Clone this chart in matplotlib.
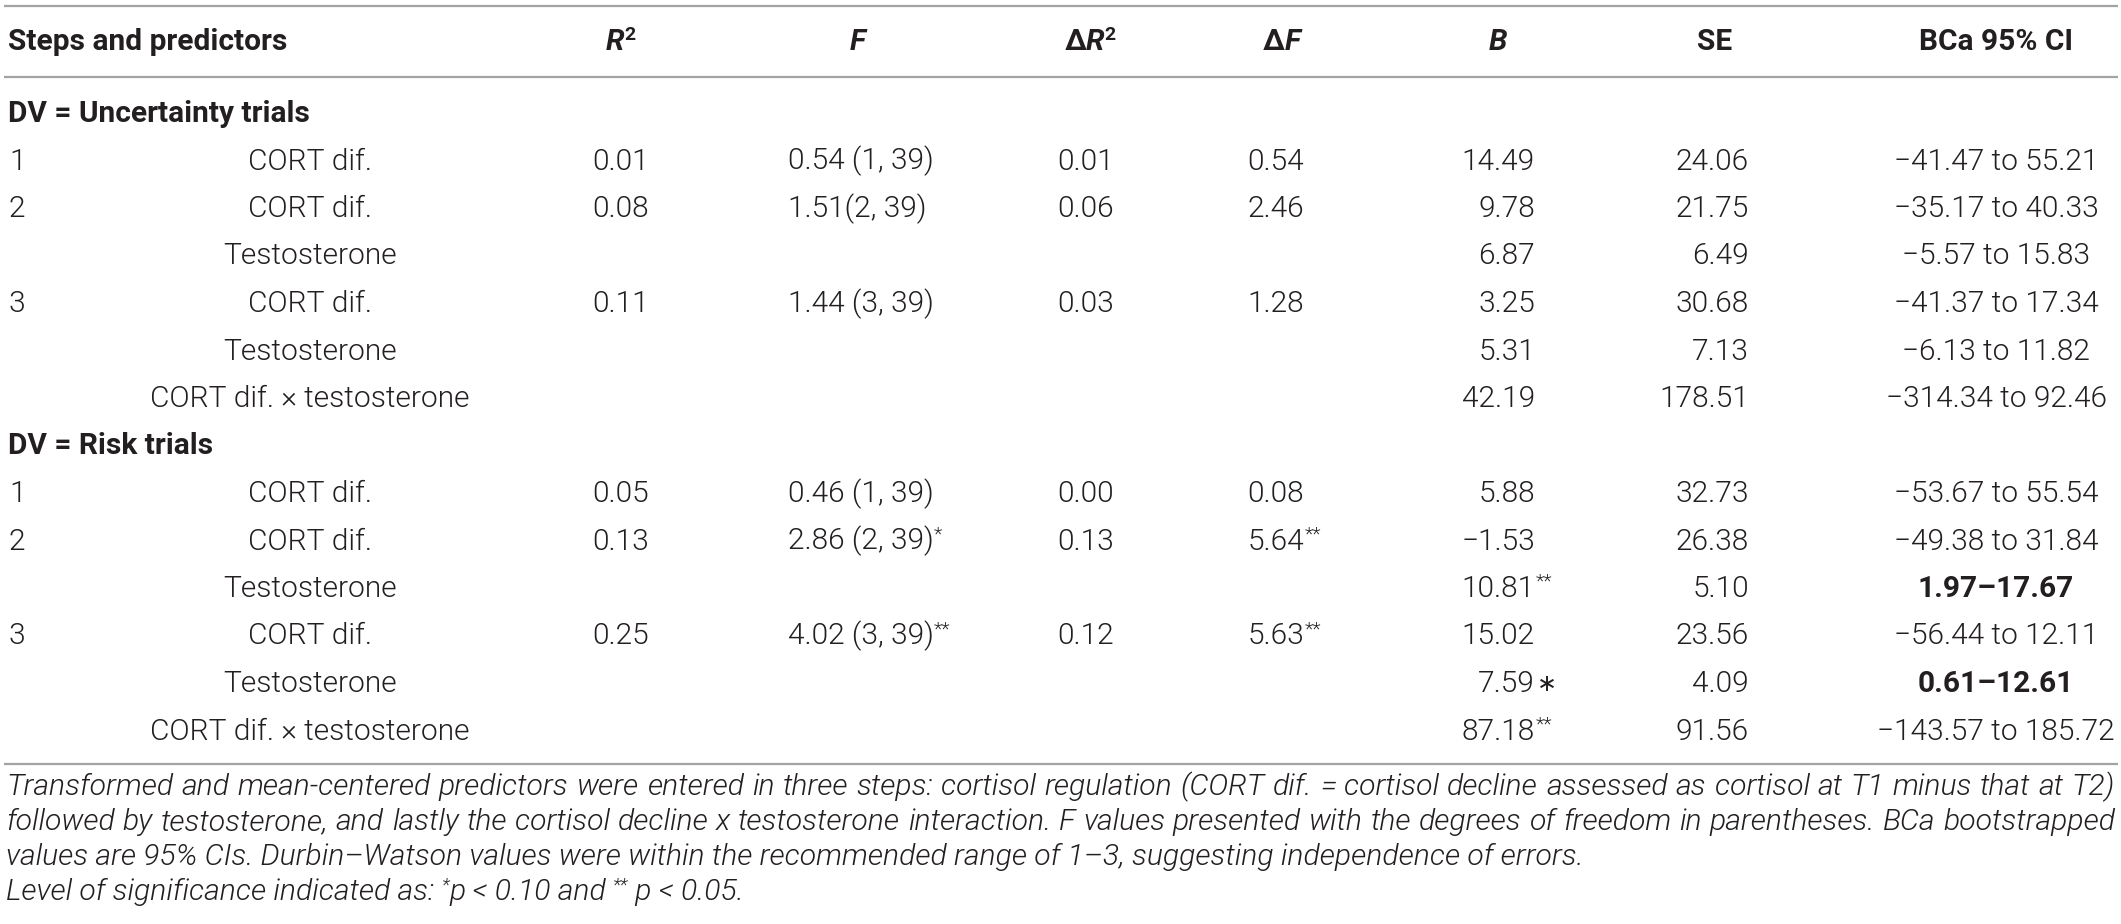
import matplotlib
matplotlib.use("Agg")
import matplotlib.pyplot as plt

# ---------------- data ----------------
headers = ["Steps and predictors", "R", "F", "ΔR", "ΔF", "B", "SE", "BCa 95% CI"]
section_titles = ["DV = Uncertainty trials", "DV = Risk trials"]
step_labels = ["1", "2", "", "3", "", ""]
predictors = ["CORT dif.", "CORT dif.", "Testosterone", "CORT dif.", "Testosterone",
              "CORT dif. × testosterone"]

# Uncertainty trials
r2_u = ["0.01", "0.08", "", "0.11", "", ""]
f_u = ["0.54 (1, 39)", "1.51(2, 39)", "", "1.44 (3, 39)", "", ""]
f_sig_u = ["", "", "", "", "", ""]
dr2_u = ["0.01", "0.06", "", "0.03", "", ""]
df_u = ["0.54", "2.46", "", "1.28", "", ""]
df_sig_u = ["", "", "", "", "", ""]
b_u = ["14.49", "9.78", "6.87", "3.25", "5.31", "42.19"]
b_sig_u = ["", "", "", "", "", ""]
se_u = ["24.06", "21.75", "6.49", "30.68", "7.13", "178.51"]
ci_u = ["−41.47 to 55.21", "−35.17 to 40.33", "−5.57 to 15.83", "−41.37 to 17.34",
        "−6.13 to 11.82", "−314.34 to 92.46"]
ci_bold_u = [False, False, False, False, False, False]

# Risk trials
r2_r = ["0.05", "0.13", "", "0.25", "", ""]
f_r = ["0.46 (1, 39)", "2.86 (2, 39)", "", "4.02 (3, 39)", "", ""]
f_sig_r = ["", "*", "", "**", "", ""]
dr2_r = ["0.00", "0.13", "", "0.12", "", ""]
df_r = ["0.08", "5.64", "", "5.63", "", ""]
df_sig_r = ["", "**", "", "**", "", ""]
b_r = ["5.88", "−1.53", "10.81", "15.02", "7.59", "87.18"]
b_sig_r = ["", "", "**", "", "∗", "**"]
se_r = ["32.73", "26.38", "5.10", "23.56", "4.09", "91.56"]
ci_r = ["−53.67 to 55.54", "−49.38 to 31.84", "1.97–17.67", "−56.44 to 12.11",
        "0.61–12.61", "−143.57 to 185.72"]
ci_bold_r = [False, False, True, False, True, False]

footnote_lines = [
    "Transformed and mean-centered predictors were entered in three steps: cortisol regulation (CORT dif. = cortisol decline assessed as cortisol at T1 minus that at T2)",
    "followed by testosterone, and lastly the cortisol decline x testosterone interaction. F values presented with the degrees of freedom in parentheses. BCa bootstrapped",
    "values are 95% CIs. Durbin–Watson values were within the recommended range of 1–3, suggesting independence of errors.",
]

# ---------------- layout ----------------
W, H = 2121, 924
FAM = ["Roboto", "DejaVu Sans"]
TXT = "#231f20"
LINE = "#a3a3a3"
FS = 21.5
FS_SUP = 14
LIGHT = 300
RAISE = 10

fig = plt.figure(figsize=(W / 100, H / 100), dpi=100)
ax = fig.add_axes([0, 0, 1, 1])
ax.set_xlim(0, W)
ax.set_ylim(H, 0)
ax.axis("off")
renderer = fig.canvas.get_renderer()


def measure(s, **kw):
    t = ax.text(0, 0, s, **kw)
    w = t.get_window_extent(renderer).width
    t.remove()
    return w


def base(**kw):
    d = dict(family=FAM, color=TXT, fontsize=FS, weight=LIGHT)
    d.update(kw)
    return d


def runs(x, y, parts, ha="left"):
    widths = [measure(t, **st) for t, st, r in parts]
    total = sum(widths)
    x0 = x if ha == "left" else (x - total if ha == "right" else x - total / 2)
    for (t, st, r), w in zip(parts, widths):
        ax.text(x0, y - r, t, va="baseline", ha="left", **st)
        x0 += w


def txt(x, y, s, ha="left", **kw):
    ax.text(x, y, s, ha=ha, va="baseline", **base(**kw))


def num_sig(x_right, y, s, sig):
    txt(x_right, y, s, ha="right")
    if sig == "∗":
        txt(x_right + 2, y - 1, sig, ha="left", family=["DejaVu Sans"],
            fontsize=FS * 0.8, weight="normal")
    elif sig:
        txt(x_right + 1, y - RAISE, sig, ha="left", fontsize=FS_SUP)


# column anchors (pixels)
X_STEP = 8
X_PRED = 310
X_R2 = 621
X_F = 788
X_DR2_R = 1114
X_DF_R = 1304
X_B_R = 1535
X_SE_R = 1749
X_CI = 1996

Y_HEAD = 50          # baselines
Y_ROW0 = 122
DY = 47.5

for yl in (6, 77, 764):
    ax.plot([4, W - 3], [yl, yl], color=LINE, lw=1.6, solid_capstyle="butt")

# header
yb = Y_HEAD
bold = base(weight="bold")
bolditc = base(weight="bold", style="italic")
supb = base(weight="bold", fontsize=FS_SUP)
txt(X_STEP, yb, headers[0], weight="bold")
runs(X_R2, yb, [(headers[1], bolditc, 0), ("2", supb, RAISE)], ha="center")
runs(858, yb, [(headers[2], bolditc, 0)], ha="center")
runs(1090, yb, [("Δ", bold, 0), (headers[3][1:], bolditc, 0), ("2", supb, RAISE)], ha="center")
runs(1282, yb, [("Δ", bold, 0), (headers[4][1:], bolditc, 0)], ha="center")
runs(1498, yb, [(headers[5], bolditc, 0)], ha="center")
txt(1715, yb, headers[6], ha="center", weight="bold")
txt(X_CI, yb, headers[7], ha="center", weight="bold")

sections = [
    (r2_u, f_u, f_sig_u, dr2_u, df_u, df_sig_u, b_u, b_sig_u, se_u, ci_u, ci_bold_u),
    (r2_r, f_r, f_sig_r, dr2_r, df_r, df_sig_r, b_r, b_sig_r, se_r, ci_r, ci_bold_r),
]

row = 0
for title, sec in zip(section_titles, sections):
    r2, f, fsig, dr2, dfv, dfsig, b, bsig, se, ci, cib = sec
    y = Y_ROW0 + DY * row
    txt(X_STEP, y, title, weight="bold")
    row += 1
    for i in range(len(predictors)):
        y = Y_ROW0 + DY * row
        if step_labels[i]:
            txt(X_STEP + 1, y, step_labels[i])
        txt(X_PRED, y, predictors[i], ha="center")
        if r2[i]:
            txt(X_R2, y, r2[i], ha="center")
        if f[i]:
            parts = [(f[i], base(), 0)]
            if fsig[i]:
                parts.append((fsig[i], base(fontsize=FS_SUP), RAISE))
            runs(X_F, y, parts, ha="left")
        if dr2[i]:
            txt(X_DR2_R, y, dr2[i], ha="right")
        if dfv[i]:
            num_sig(X_DF_R, y, dfv[i], dfsig[i])
        if b[i]:
            num_sig(X_B_R, y, b[i], bsig[i])
        if se[i]:
            txt(X_SE_R, y, se[i], ha="right")
        if ci[i]:
            txt(X_CI, y, ci[i], ha="center", weight="bold" if cib[i] else LIGHT)
        row += 1

# footnote (italic, justified first two lines)
foot_y = [795, 830, 865, 900]
x_left, x_right = 6, W - 6
probe = measure(footnote_lines[0], **base(style="italic", fontsize=20))
FS_FOOT = 20 * (x_right - x_left) / probe * 0.99
itl = dict(style="italic", fontsize=FS_FOOT)
for k, line in enumerate(footnote_lines):
    y = foot_y[k]
    if k < 2:
        words = line.split(" ")
        ws = [measure(w_, **base(**itl)) for w_ in words]
        gap = (x_right - x_left - sum(ws)) / (len(words) - 1)
        x = x_left
        for w_, wd in zip(words, ws):
            txt(x, y, w_, **itl)
            x += wd + gap
    else:
        txt(x_left, y, line, **itl)

sp = base(style="italic", fontsize=FS_FOOT * 0.62)
it = base(**itl)
runs(x_left, foot_y[3], [("Level of significance indicated as: ", it, 0), ("*", sp, 9),
                         ("p < 0.10 and ", it, 0), ("**", sp, 9), (" p < 0.05.", it, 0)])

fig.savefig("out.png", dpi=100, facecolor="white")
